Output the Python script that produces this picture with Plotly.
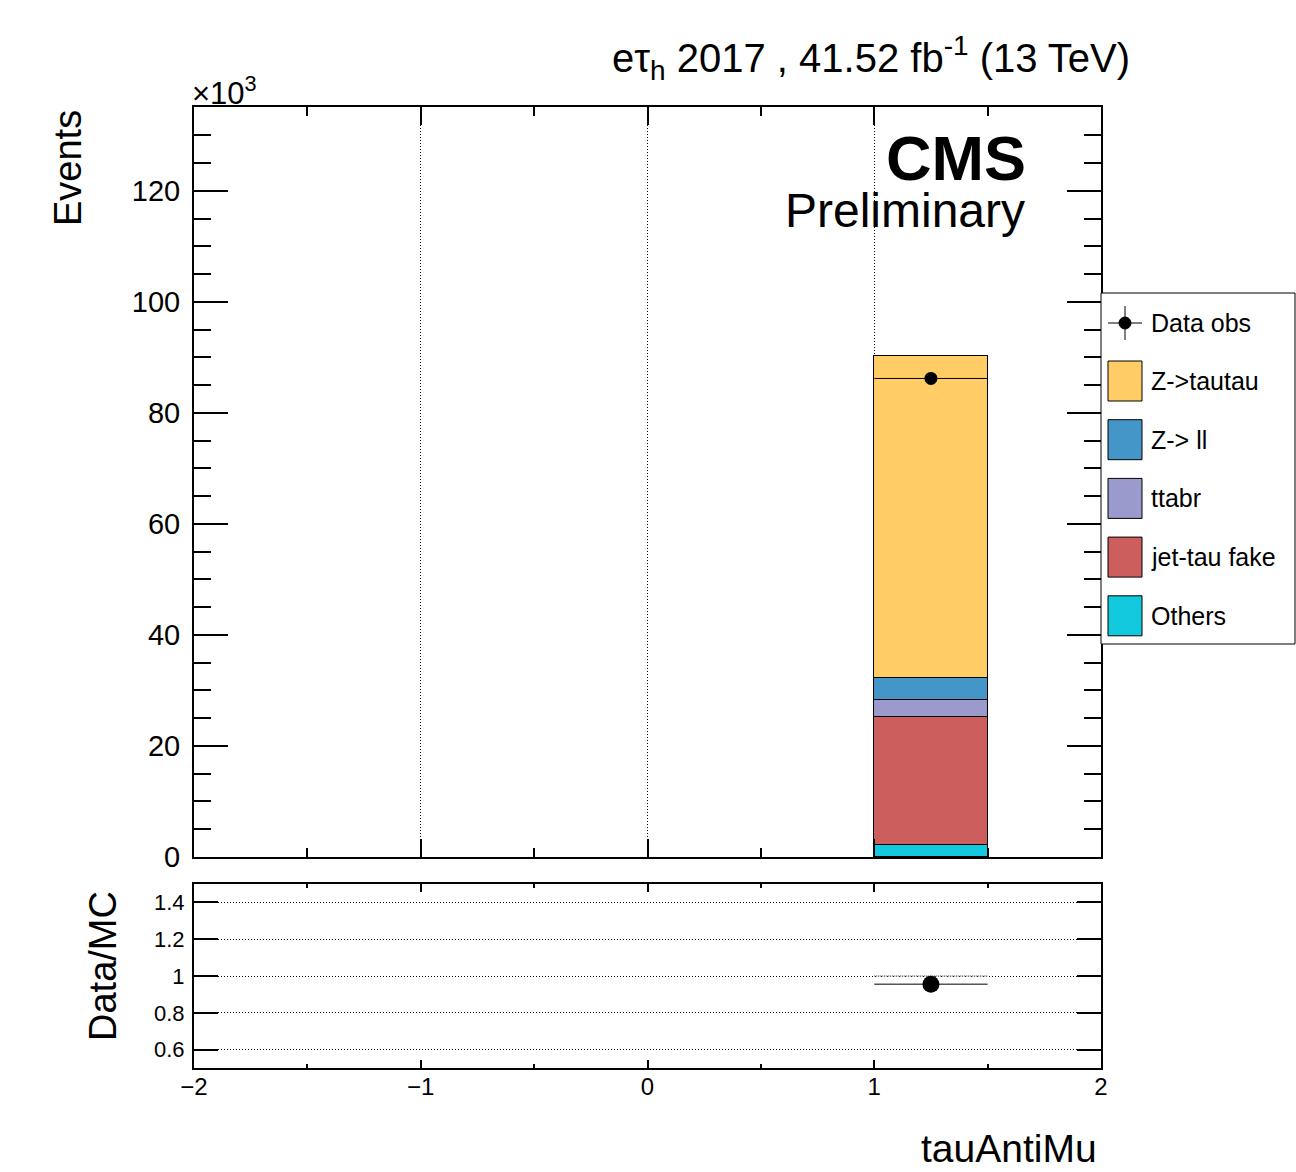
"""Stacked tauAntiMu distribution with data/MC ratio, CMS style."""

import numpy as np
import plotly.graph_objects as go

W, H = 1296, 1172

# ── data ──────────────────────────────────────────────────────────────────
bin_centers = [1.25]
bin_widths = [0.5]

others = [2100]
jet_tau_fake = [23200]
ttbar = [3000]
z_ll = [3900]
z_tautau = [58000]
data_obs = [86200]

# stack order: bottom → top
stack_names = ["Others", "jet-tau fake", "ttabr", "Z-> ll", "Z->tautau"]
stack_values = [others, jet_tau_fake, ttbar, z_ll, z_tautau]
stack_colors = ["#12C9DD", "#CD5E5E", "#9A9ACC", "#4496C8", "#FFCC66"]

# legend order: top → bottom
legend_names = ["Z->tautau", "Z-> ll", "ttabr", "jet-tau fake", "Others"]
legend_colors = ["#FFCC66", "#4496C8", "#9A9ACC", "#CD5E5E", "#12C9DD"]

FONT = "Liberation Sans, Arial, Helvetica, sans-serif"


def px(x):
    return x / W


def py(y):
    return 1 - y / H


total = np.sum([np.array(v, dtype=float) for v in stack_values], axis=0)
data = np.array(data_obs, dtype=float)
ratio = data / total
ratio_err = np.sqrt(data) / total

fig = go.Figure()

# ── main panel ────────────────────────────────────────────────────────────
for name, vals, color in zip(stack_names, stack_values, stack_colors):
    fig.add_trace(go.Bar(
        x=bin_centers, y=np.array(vals) / 1e3, width=bin_widths,
        name=name, marker=dict(color=color, line=dict(color="black", width=1)),
        xaxis="x", yaxis="y", showlegend=False,
    ))

fig.add_trace(go.Scatter(
    x=bin_centers, y=data / 1e3, mode="markers",
    marker=dict(color="black", size=13),
    error_x=dict(type="data", array=np.array(bin_widths) / 2, color="black", thickness=1, width=0),
    error_y=dict(type="data", array=np.sqrt(data) / 1e3, color="black", thickness=1, width=0),
    xaxis="x", yaxis="y", showlegend=False,
))

# ── ratio panel ───────────────────────────────────────────────────────────
lo = np.array(bin_centers) - np.array(bin_widths) / 2
hi = np.array(bin_centers) + np.array(bin_widths) / 2
fig.add_trace(go.Scatter(
    x=[lo[0], hi[0]], y=[1, 1], mode="lines",
    line=dict(color="#999999", width=2, dash="1px,1px"),
    xaxis="x2", yaxis="y2", showlegend=False,
))
fig.add_trace(go.Scatter(
    x=bin_centers, y=ratio, mode="markers",
    marker=dict(color="black", size=17),
    error_x=dict(type="data", array=np.array(bin_widths) / 2, color="black", thickness=1, width=0),
    error_y=dict(type="data", array=ratio_err, color="black", thickness=1, width=0),
    xaxis="x2", yaxis="y2", showlegend=False,
))

axis_common = dict(
    showline=True, linecolor="black", linewidth=2, mirror="allticks",
    ticks="inside", tickcolor="black", tickwidth=2, zeroline=False,
    automargin=False, tickfont=dict(family=FONT, color="black"),
)

x_dom = [px(194), px(1101)]
GRID_DASH = "1px,2px"

fig.update_layout(
    width=W, height=H,
    margin=dict(l=0, r=0, t=0, b=0),
    paper_bgcolor="white", plot_bgcolor="white",
    barmode="stack", bargap=0,
    showlegend=False,
    font=dict(family=FONT, color="black"),
    xaxis=dict(
        **axis_common, domain=x_dom, anchor="y", range=[-2, 2],
        dtick=1, tick0=0, ticklen=18, showticklabels=False,
        showgrid=True, gridcolor="black", gridwidth=1, griddash=GRID_DASH,
        minor=dict(ticks="inside", ticklen=9, dtick=0.5, tickcolor="black", tickwidth=2),
        matches="x2",
    ),
    yaxis=dict(
        **axis_common, domain=[py(857), py(107)], anchor="x", range=[0, 135.1],
        dtick=20, tick0=0, ticklen=34, showgrid=False, ticklabelstandoff=6,
        minor=dict(ticks="inside", ticklen=17, dtick=5, tickcolor="black", tickwidth=2),
    ),
    xaxis2=dict(
        **axis_common, domain=x_dom, anchor="y2", range=[-2, 2],
        dtick=1, tick0=0, ticklen=8, showgrid=False, ticklabelstandoff=-4,
        minor=dict(ticks="inside", ticklen=4, dtick=0.5, tickcolor="black", tickwidth=2),
    ),
    yaxis2=dict(
        **axis_common, domain=[py(1068), py(884)], anchor="x2", range=[0.5, 1.5],
        tickvals=[0.6, 0.8, 1.0, 1.2, 1.4], ticklen=24, ticklabelstandoff=3,
        showgrid=True, gridcolor="black", gridwidth=1, griddash=GRID_DASH,
    ),
)
fig.layout.xaxis2.tickfont.size = 24
fig.layout.yaxis.tickfont.size = 29
fig.layout.yaxis2.tickfont.size = 22

# ── texts ─────────────────────────────────────────────────────────────────
ann = []
ann.append(dict(
    text="eτ<sub>h</sub> 2017 , 41.52 fb<sup>-1</sup> (13 TeV)",
    x=px(1132), y=py(58), xanchor="right", yanchor="middle",
    font=dict(size=40),
))
ann.append(dict(text="<b>CMS</b>", x=px(1028), y=py(158), xanchor="right",
                yanchor="middle", font=dict(size=63)))
ann.append(dict(text="Preliminary", x=px(1027), y=py(211), xanchor="right",
                yanchor="middle", font=dict(size=48)))
ann.append(dict(text="×10<sup>3</sup>", x=px(190), y=py(91), xanchor="left",
                yanchor="middle", font=dict(size=31)))
ann.append(dict(text="Events", x=px(68), y=py(108), xanchor="center",
                yanchor="top", textangle=-90, font=dict(size=38)))
ann.append(dict(text="Data/MC", x=px(103), y=py(1043), xanchor="center",
                yanchor="bottom", textangle=-90, font=dict(size=38)))
ann.append(dict(text="tauAntiMu", x=px(1099), y=py(1148), xanchor="right",
                yanchor="middle", font=dict(size=39)))

# ── legend (drawn by hand, ROOT style) ────────────────────────────────────
shapes = [dict(type="rect", xref="paper", yref="paper",
               x0=px(1101), x1=px(1295), y0=py(644), y1=py(293),
               line=dict(color="black", width=1), fillcolor="white", layer="above")]

# data obs entry
ann.append(dict(text="Data obs", x=px(1149), y=py(323), xanchor="left",
                yanchor="middle", font=dict(size=25)))
shapes.append(dict(type="line", xref="paper", yref="paper",
                   x0=px(1108), x1=px(1142), y0=py(323), y1=py(323),
                   line=dict(color="black", width=1)))
shapes.append(dict(type="line", xref="paper", yref="paper",
                   x0=px(1125), x1=px(1125), y0=py(306), y1=py(340),
                   line=dict(color="black", width=1)))
shapes.append(dict(type="circle", xref="paper", yref="paper",
                   x0=px(1119), x1=px(1131), y0=py(329), y1=py(317),
                   line=dict(color="black", width=1), fillcolor="black"))

for i, (name, color) in enumerate(zip(legend_names, legend_colors)):
    yc = 381 + i * 58.7
    shapes.append(dict(type="rect", xref="paper", yref="paper",
                       x0=px(1108), x1=px(1142), y0=py(yc + 20), y1=py(yc - 20),
                       line=dict(color="black", width=1), fillcolor=color))
    ann.append(dict(text=name, x=px(1149), y=py(yc), xanchor="left",
                    yanchor="middle", font=dict(size=25)))

for a in ann:
    a.update(xref="paper", yref="paper", showarrow=False)
    a["font"].update(family=FONT, color="black")

fig.update_layout(annotations=ann, shapes=shapes)

# the page's default body margin would shift the canvas by 8 px
fig.write_html(
    "out.html",
    config={"displayModeBar": False},
    post_script="document.body.style.margin = '0px';",
)
